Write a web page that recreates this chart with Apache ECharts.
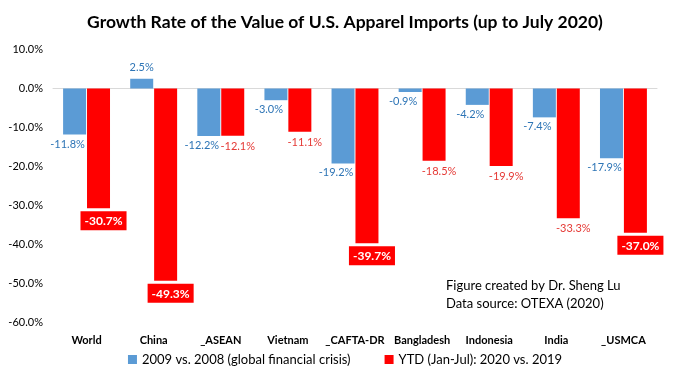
<!DOCTYPE html>
<html><head><meta charset="utf-8">
<script src="https://cdn.jsdelivr.net/npm/echarts@6/dist/echarts.min.js"></script>
<style>html,body{margin:0;padding:0;background:#fff}#c{width:690px;height:388px}</style>
</head><body><div id="c"></div>
<script>
const categories = ['World','China','_ASEAN','Vietnam','_CAFTA-DR','Bangladesh','Indonesia','India','_USMCA'];
const crisis2009 = [-11.8, 2.5, -12.2, -3.0, -19.2, -0.9, -4.2, -7.4, -17.9];
const ytd2020 = [-30.7, -49.3, -12.1, -11.1, -39.7, -18.5, -19.9, -33.3, -37.0];
const seriesNames = ['2009 vs. 2008 (global financial crisis)', 'YTD (Jan-Jul): 2020 vs. 2019'];
const boxedRed = ['World','China','_CAFTA-DR','_USMCA'];
const FONT = 'Lato, "Open Sans", sans-serif';
const fmt = v => v.toFixed(1) + '%';

const blueData = crisis2009.map(v => v >= 0 ? {value: v, label: {position: 'top', offset:[0,-2]}} : v);
const redData = ytd2020.map((v, i) => boxedRed.includes(categories[i]) ? {
  value: v,
  label: {backgroundColor: '#FF0000', color: '#fff', fontWeight: 'bold', padding: [4, 4, 3, 4], distance: 3, fontSize: 12}
} : v);

const chart = echarts.init(document.getElementById('c'));
chart.setOption({
  animation: false,
  textStyle: {fontFamily: FONT},
  title: {
    text: 'Growth Rate of the Value of U.S. Apparel Imports (up to July 2020)',
    left: 'center', top: 8,
    textStyle: {fontFamily: FONT, fontSize: 17.5, fontWeight: 'bold', color: '#000'}
  },
  grid: {left: 53, right: 33, top: 49.5, bottom: 65.5},
  legend: {
    bottom: 17, left: 'center', itemWidth: 9, itemHeight: 9, itemGap: 34,
    icon: 'rect',
    textStyle: {fontFamily: FONT, fontSize: 13, color: '#000'},
    data: seriesNames
  },
  xAxis: {
    type: 'category', data: categories,
    axisLine: {lineStyle: {color: '#D9D9D9'}},
    axisTick: {show: false},
    axisLabel: {interval: 0, fontWeight: 'bold', fontSize: 11, color: '#000', fontFamily: FONT, margin: 12}
  },
  yAxis: {
    type: 'value', min: -60, max: 10, interval: 10,
    splitLine: {show: false},
    axisLine: {show: false}, axisTick: {show: false},
    axisLabel: {formatter: v => v.toFixed(1) + '%', fontSize: 11, color: '#000', fontFamily: FONT, margin: 10}
  },
  series: [
    {
      name: seriesNames[0], type: 'bar', data: blueData,
      barWidth: 23, barGap: '4%',
      itemStyle: {color: '#5B9BD5'},
      label: {show: true, position: 'bottom', distance: 4, offset: [-7, 0], formatter: p => fmt(p.value),
        color: '#2E75B6', fontSize: 11, fontFamily: FONT}
    },
    {
      name: seriesNames[1], type: 'bar', data: redData,
      barWidth: 23,
      itemStyle: {color: '#FF0000'},
      label: {show: true, position: 'bottom', distance: 5, offset: [5, 0], formatter: p => fmt(p.value),
        color: '#E53935', fontSize: 11, fontFamily: FONT}
    }
  ],
  graphic: [
    {type: 'text', left: 446, top: 277, style: {text: 'Figure created by Dr. Sheng Lu\nData source: OTEXA (2020)', font: '13px ' + FONT, fill: '#000', lineHeight: 18}}
  ]
});
</script></body></html>
